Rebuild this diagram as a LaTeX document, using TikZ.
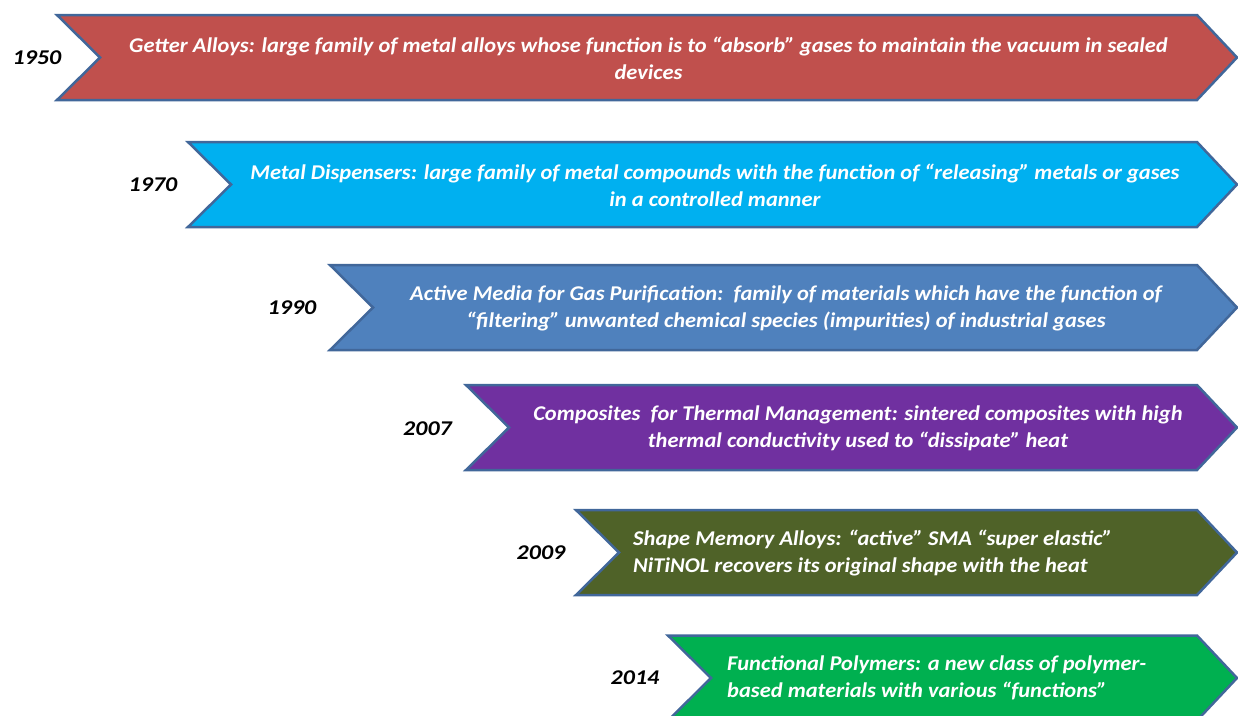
\documentclass[tikz,border=0pt]{standalone}
\usepackage{fontspec}
\setmainfont{Carlito}
\newfontfamily\lblfont[FakeStretch=1.07]{Carlito}
\newfontfamily\yrfont[FakeStretch=1.14]{Carlito}
\definecolor{bordc}{HTML}{41679A}
\definecolor{cA}{HTML}{C0504D}
\definecolor{cB}{HTML}{00B0F0}
\definecolor{cC}{HTML}{4F81BD}
\definecolor{cD}{HTML}{7030A0}
\definecolor{cE}{HTML}{4F6228}
\definecolor{cF}{HTML}{00B050}
\tikzset{
  chev/.style={draw=bordc, line width=2.5pt, line join=miter},
  lbl/.style={text=white, inner sep=0pt, font=\lblfont\bfseries\itshape\fontsize{21}{27}\selectfont, align=center},
  lbll/.style={lbl, align=left, anchor=west},
  yr/.style={inner sep=0pt, font=\yrfont\bfseries\itshape\fontsize{21}{24}\selectfont},
}
\newcommand\mychev[3]{%
  \path[chev, fill=#3] (#1,#2-42.5) -- (1197,#2-42.5) -- (1237,#2) -- (1197,#2+42.5)
    -- (#1,#2+42.5) -- (#1+43,#2) -- cycle;}
\begin{document}
\begin{tikzpicture}[x=1pt,y=-1pt]
\useasboundingbox (0,0) rectangle (1238,715);
\begin{scope}
\clip (0,0) rectangle (1238,715);
\mychev{57}{57.5}{cA}
\mychev{188}{184.5}{cB}
\mychev{330}{307.5}{cC}
\mychev{466}{427.5}{cD}
\mychev{576}{552.5}{cE}
\mychev{668}{678}{cF}
\end{scope}
\node[yr] (y1) at (37,58) {1950};
\node[yr] (y2) at (153,185) {1970};
\node[yr] (y3) at (292,308) {1990};
\node[yr] (y4) at (427.5,429) {2007};
\node[yr] (y5) at (541,553) {2009};
\node[yr] (y6) at (635,678) {2014};
\node[lbl] (t1) at (648.5,58.5) {Getter Alloys: large family of metal alloys whose function is to “absorb” gases to maintain the vacuum in sealed\\devices};
\node[lbl] (t2) at (715,185) {Metal Dispensers: large family of metal compounds with the function of “releasing” metals or gases\\in a controlled manner};
\node[lbl] (t3) at (786,308) {Active Media for Gas Purification:\ \ family of materials which have the function of\\“filtering” unwanted chemical species (impurities) of industrial gases};
\node[lbl] (t4) at (858,428) {Composites\ \ for Thermal Management: sintered composites with high\\thermal conductivity used to “dissipate” heat};
\node[lbll] (t5) at (633,553) {Shape Memory Alloys: “active” SMA “super elastic”\\NiTiNOL recovers its original shape with the heat};
\node[lbll] (t6) at (727,678) {Functional Polymers: a new class of polymer-\\based materials with various “functions”};
\end{tikzpicture}
\end{document}
